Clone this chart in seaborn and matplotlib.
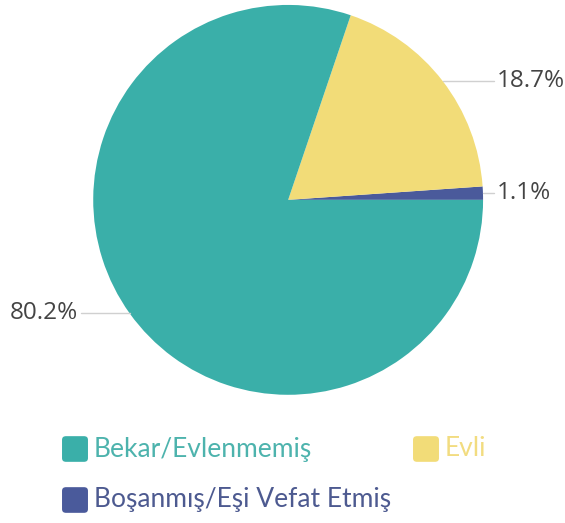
import matplotlib
matplotlib.use("Agg")
import matplotlib.pyplot as plt
import seaborn as sns
import numpy as np
from matplotlib.patches import FancyBboxPatch

# data, counter-clockwise from 3 o'clock
categories = ["Boşanmış/Eşi Vefat Etmiş", "Evli", "Bekar/Evlenmemiş"]
shares = [1.1, 18.7, 80.2]
colors = ["#4a5a9b", "#f2dc78", "#3aafa9"]
legend_order = ["Bekar/Evlenmemiş", "Evli", "Boşanmış/Eşi Vefat Etmiş"]

sns.set_theme(style="white")
plt.rcParams['font.family'] = ['Open Sans', 'DejaVu Sans']

fig = plt.figure(figsize=(5.65, 5.23), dpi=100)
ax = fig.add_axes([0.165, 0.245, 0.69, 0.7457])
pal = sns.color_palette(colors)

wedges, _ = ax.pie(shares, colors=pal, startangle=0, counterclock=True, radius=1,
                   wedgeprops=dict(linewidth=0))
ax.set_xlim(-1, 1)
ax.set_ylim(-1, 1)
ax.set_aspect("equal")
ax.axis("off")

# labels with horizontal leader lines
for w, s in zip(wedges, shares):
    mid = np.deg2rad((w.theta1 + w.theta2) / 2)
    x0, y0 = np.cos(mid), np.sin(mid)
    if x0 >= 0:
        x1 = 1.06
        ha = "left"
    else:
        x1 = -1.07
        ha = "right"
    ax.plot([x0, x1 * 0.995], [y0, y0], color="#d0d0d0", lw=1, clip_on=False)
    ax.text(x1 + (0.01 if ha == "left" else -0.01), y0, f"{s}%", ha=ha, va="center",
            fontsize=17.5, color="#444444", clip_on=False)

# legend
text_colors = {"Bekar/Evlenmemiş": "#4db3ad", "Evli": "#f2dc80",
               "Boşanmış/Eşi Vefat Etmiş": "#4d5a90"}
cmap = dict(zip(categories, colors))
pos = {"Bekar/Evlenmemiş": (62, 449), "Evli": (413, 449), "Boşanmış/Eşi Vefat Etmiş": (62, 500)}
W, H = 565, 523
for name in legend_order:
    px, py = pos[name]
    size = 26
    box = FancyBboxPatch(((px + 2) / W, (H - py - size / 2 + 2) / H), (size - 4) / W, (size - 4) / H,
                         boxstyle="round,pad=0.0035,rounding_size=0.007",
                         transform=fig.transFigure, facecolor=cmap[name], edgecolor="none")
    fig.patches.append(box)
    fig.text((px + size + 6) / W, (H - py) / H, name, ha="left", va="center",
             fontsize=19, color=text_colors[name],
             family=["Lato", "DejaVu Sans"])

fig.savefig("out.png", dpi=100, facecolor="white")
